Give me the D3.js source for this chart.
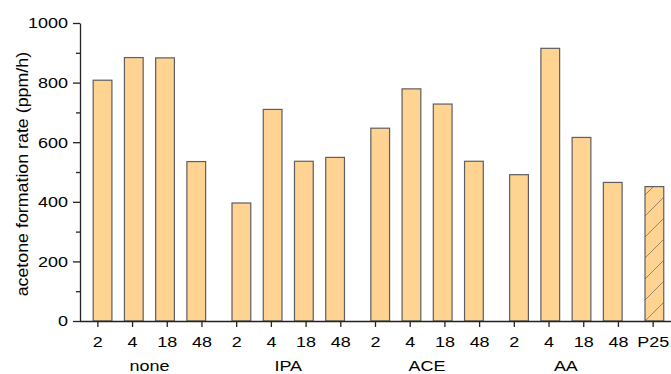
<!DOCTYPE html>
<html>
<head>
<meta charset="utf-8">
<script src="https://cdn.jsdelivr.net/npm/d3@7"></script>
<style>
  body { margin: 0; background: #fff; }
  text { font-family: "Liberation Sans", Arial, sans-serif; fill: #000; }
</style>
</head>
<body>
<div id="chart"></div>
<script>
// data
const groups = ["none", "IPA", "ACE", "AA"];
const times = ["2", "4", "18", "48"];
const noneVals = [808, 884, 883, 535];
const ipaVals = [396, 710, 536, 549];
const aceVals = [647, 779, 728, 536];
const aaVals = [491, 915, 616, 465];
const p25Val = 451;
const yTicks = [0, 200, 400, 600, 800, 1000];
const yMinor = [100, 300, 500, 700, 900];

const width = 671, height = 374;
const margin = { top: 23, bottom: 53, left: 80, right: 0 };
const stretch = 1.16; // the original text is drawn a bit wide

// 17 slots: 4 groups x 4 times + P25
const tickLabels = groups.flatMap(() => times).concat(["P25"]);
const series = [noneVals, ipaVals, aceVals, aaVals];
const bars = [];
series.forEach((vals, g) => {
  vals.forEach((v, i) => {
    // Origin packs grouped bars a bit tighter than the tick spacing
    bars.push({ pos: 4 * g + 1.5 + (i - 1.5) * 0.9, value: v, hatch: false });
  });
});
bars.push({ pos: 16.05, value: p25Val, hatch: true });

const x = d3.scaleLinear().domain([-0.5, 16.5]).range([margin.left, 670]);
const y = d3.scaleLinear().domain([0, 1000]).range([height - margin.bottom, margin.top]);
const barW = (x(1) - x(0)) * 0.54;

const svg = d3.select("#chart").append("svg")
  .attr("width", width)
  .attr("height", height);

const defs = svg.append("defs");
defs.append("pattern")
  .attr("id", "hatch")
  .attr("patternUnits", "userSpaceOnUse")
  .attr("width", 21)
  .attr("height", 21)
  .call((p) => {
    p.append("rect").attr("width", 21).attr("height", 21).attr("fill", "#ffd391");
    p.append("path").attr("d", "M0,21 L21,0 M-2,2 L2,-2 M19,23 L23,19")
      .attr("stroke", "#8a7a66").attr("stroke-width", 0.9);
  });

// bars
svg.append("g")
  .selectAll("rect")
  .data(bars)
  .join("rect")
  .attr("x", (d) => x(d.pos) - barW / 2)
  .attr("y", (d) => y(d.value))
  .attr("width", barW)
  .attr("height", (d) => y(0) - y(d.value))
  .attr("fill", (d) => (d.hatch ? "url(#hatch)" : "#ffd391"))
  .attr("stroke", "#5e5e5e")
  .attr("stroke-width", 1.2);

// x axis
const xAxis = d3.axisBottom(x)
  .tickValues(d3.range(17))
  .tickFormat((d) => tickLabels[d])
  .tickSize(6)
  .tickSizeOuter(0)
  .tickPadding(9);

const gx = svg.append("g")
  .attr("transform", `translate(0,${y(0)})`)
  .call(xAxis);
gx.select(".domain").attr("d", `M${margin.left},0.5H671`);
gx.selectAll("text")
  .style("font-size", "15.5px")
  .attr("transform", `scale(${stretch},1)`);

// group labels
svg.append("g")
  .selectAll("text")
  .data(groups)
  .join("text")
  .attr("x", (d, g) => x(4 * g + 1.5) / stretch)
  .attr("y", 371)
  .attr("transform", `scale(${stretch},1)`)
  .attr("text-anchor", "middle")
  .style("font-size", "15.5px")
  .text((d) => d);

// y axis
const gy = svg.append("g")
  .attr("transform", `translate(${margin.left},0)`)
  .call(d3.axisLeft(y).tickValues(yTicks).tickFormat(d3.format("d"))
    .tickSize(7).tickSizeOuter(0).tickPadding(5));
gy.selectAll("text")
  .style("font-size", "15.5px")
  .attr("x", -12 / stretch)
  .attr("transform", `scale(${stretch},1)`);

svg.append("g")
  .attr("transform", `translate(${margin.left},0)`)
  .call(d3.axisLeft(y).tickValues(yMinor).tickSize(4).tickFormat(""))
  .select(".domain").remove();

svg.selectAll(".domain, .tick line")
  .attr("stroke", "#222")
  .attr("stroke-width", 1.3);

const labelStretch = 1.08;
svg.append("text")
  .attr("transform", `rotate(-90) scale(${labelStretch},1)`)
  .attr("x", -(margin.top + y(0)) / 2 / labelStretch - 2)
  .attr("y", 28)
  .attr("text-anchor", "middle")
  .style("font-size", "16.5px")
  .text("acetone formation rate (ppm/h)");
</script>
</body>
</html>
